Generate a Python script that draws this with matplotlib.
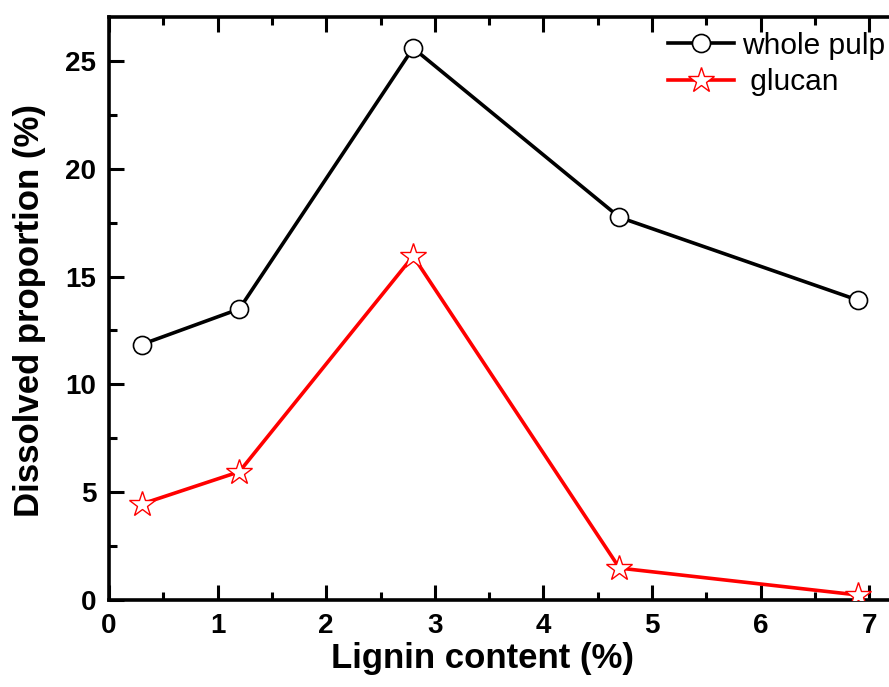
import matplotlib
matplotlib.use("Agg")
import matplotlib.pyplot as plt
from matplotlib.ticker import MultipleLocator

lignin = [0.3, 1.2, 2.8, 4.7, 6.9]
whole_pulp = [11.85, 13.5, 25.6, 17.75, 13.9]
glucan = [4.45, 5.95, 15.95, 1.48, 0.23]

plt.rcParams['font.family'] = ['Liberation Sans', 'DejaVu Sans']

W, H = 889, 687
fig = plt.figure(figsize=(W/100, H/100), dpi=100)
x0, x1 = 109, 891
y0, y1 = 600, 17
ax = fig.add_axes([x0/W, 1 - y0/H, (x1-x0)/W, (y0-y1)/H])

ax.plot(lignin, whole_pulp, color='black', lw=2.6, marker='o', ms=13,
        mfc='white', mec='black', mew=1.2, label='whole pulp', zorder=3)
ax.plot(lignin, glucan, color='red', lw=2.6, marker='*', ms=19,
        mfc='white', mec='red', mew=1.0, label=' glucan', zorder=3)

ax.set_xlim(0, 7.2)
ax.set_ylim(0, 27.04)
ax.xaxis.set_major_locator(MultipleLocator(1))
ax.xaxis.set_minor_locator(MultipleLocator(0.5))
ax.yaxis.set_major_locator(MultipleLocator(5))
ax.yaxis.set_minor_locator(MultipleLocator(2.5))
ax.tick_params(which='both', direction='in', top=True, right=False, width=2.2)
ax.tick_params(which='major', length=11, labelsize=20)
ax.tick_params(axis='y', which='major', pad=9)
ax.tick_params(axis='x', which='major', pad=9.5)
ax.tick_params(which='minor', length=6)
for lab in ax.get_xticklabels() + ax.get_yticklabels():
    lab.set_fontweight('bold')
for s in ['left', 'bottom', 'top']:
    ax.spines[s].set_linewidth(2.6)
ax.spines['right'].set_visible(False)

ax.set_xlabel('Lignin content (%)', fontsize=25, fontweight='bold')
ax.set_ylabel('Dissolved proportion (%)', fontsize=25, fontweight='bold')
ax.xaxis.set_label_coords(0.478, -0.072)
ax.yaxis.set_label_coords(-0.081, 0.497)

leg = ax.legend(loc='upper left', bbox_to_anchor=(0.696, 1.0), frameon=False,
                fontsize=21.5, handlelength=2.2, handletextpad=0.28,
                labelspacing=0.28, borderaxespad=0.1)

fig.savefig('out.png', dpi=100)
